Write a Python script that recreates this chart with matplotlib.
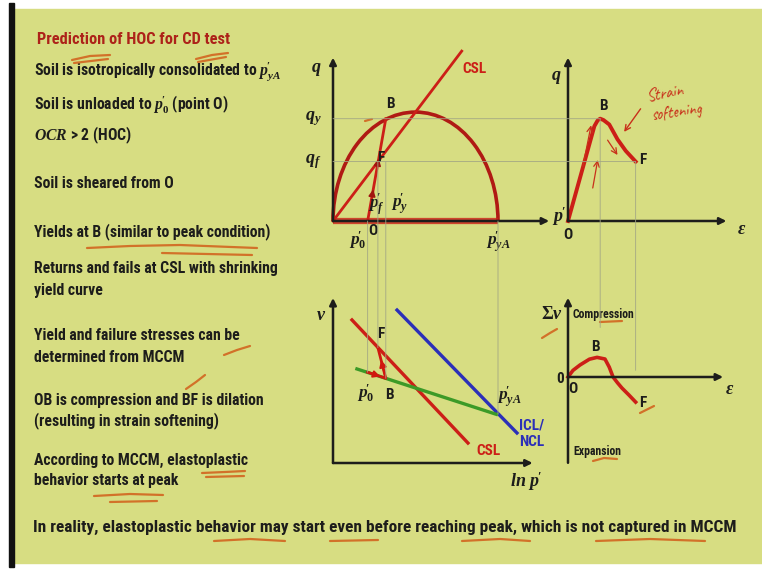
import matplotlib
matplotlib.use("Agg")
import matplotlib.pyplot as plt
from matplotlib.patches import Arc, ConnectionPatch, Rectangle

plt.rcParams['mathtext.fontset'] = 'custom'
plt.rcParams['mathtext.it'] = 'Liberation Serif:italic:bold'
plt.rcParams['mathtext.rm'] = 'Liberation Serif:bold'
plt.rcParams['mathtext.bf'] = 'Liberation Serif:bold'

# --- model values (MCCM, heavily overconsolidated, drained test) ---
p_yA = 1.0          # isotropic preconsolidation pressure
M = 1.32            # slope of CSL in q-p'
p_0 = 0.21          # start of shearing (point O)
p_B, q_B = 0.32, 0.62   # yield / peak
p_F, q_F = 0.272, 0.36  # failure on the CSL
p_csl_end = 0.78

# v - ln p' lines
csl_lnp = [0.115, 0.818]
csl_v = [0.867, 0.121]
ncl_lnp = [0.388, 1.115]
ncl_v = [0.927, 0.182]
url_lnp = [0.145, 0.99]
url_v = [0.570, 0.295]
path_lnp = [p_0, p_B, p_F]
path_v = [0.55, 0.513, 0.699]

# q - axial strain
eps_q = [0, 0.16, 0.18, 0.195, 0.215, 0.25, 0.30, 0.35, 0.41]
q_eps = [0, 0.575, 0.61, q_B, 0.612, 0.585, 0.495, 0.425, q_F]
eps_B, eps_F = 0.195, 0.41

# volumetric strain - axial strain
eps_v = [0, 0.03, 0.073, 0.13, 0.176, 0.224, 0.25, 0.273, 0.30, 0.327, 0.37, 0.41]
sum_v = [0, 0.04, 0.073, 0.108, 0.119, 0.109, 0.06, 0.0, -0.035, -0.067, -0.11, -0.152]

P = r"p^{\!\prime}"
bullets = [
    (72, "Soil is isotropically consolidated to $" + P + "_{yA}$"),
    (104, "Soil is unloaded to $" + P + "_0$ (point O)"),
    (135, "$OCR$ > 2 (HOC)"),
    (184, "Soil is sheared from O"),
    (232, "Yields at B (similar to peak condition)"),
    (269, "Returns and fails at CSL with shrinking"),
    (291, "yield curve"),
    (336, "Yield and failure stresses can be"),
    (357, "determined from MCCM"),
    (400, "OB is compression and BF is dilation"),
    (421, "(resulting in strain softening)"),
    (460, "According to MCCM, elastoplastic"),
    (481, "behavior starts at peak"),
]
title = "Prediction of HOC for CD test"
footer = ("In reality, elastoplastic behavior may start even before reaching peak, "
          "which is not captured in MCCM")

W, H = 762, 573
S = 165  # pixels per unit in every diagram
BG = '#d7dd82'
INK = '#1d1d1b'
RED = '#cc1f17'
GUIDE = '#a3a784'
PEN = '#d2651f'
SANS = ['Roboto Condensed', 'DejaVu Sans']
HAND = ['Caveat', 'DejaVu Sans']

fig = plt.figure(figsize=(W / 100, H / 100), dpi=100, facecolor='white')
bg = fig.add_axes([0, 0, 1, 1])
bg.set_xlim(0, W)
bg.set_ylim(H, 0)
bg.axis('off')
bg.add_patch(Rectangle((14, 9), W - 14, 554, color=BG, zorder=0))
bg.add_patch(Rectangle((9, 3), 5, 564, color='#111111', zorder=1))

body = dict(fontsize=11.3, fontweight='bold', color=INK, family=SANS, va='center', ha='left')
bg.text(37, 40, title, **{**body, 'color': '#ad2219', 'fontsize': 11.8})
for y, s in bullets:
    bg.text(34, y, s, **body)
bg.text(33, 527, footer, **{**body, 'fontsize': 12.4})

# pen marks of the lecturer
pen_marks = [
    [(72, 60), (90, 56), (110, 55)], [(74, 63), (108, 59)],
    [(196, 59), (212, 55), (228, 53)], [(198, 62), (226, 57)],
    [(87, 248), (130, 246), (180, 245), (257, 248)], [(162, 253), (252, 255)],
    [(224, 355), (237, 350), (250, 346)],
    [(186, 389), (196, 382), (205, 375)],
    [(202, 473), (225, 472), (245, 471)], [(206, 477), (244, 476)],
    [(94, 496), (130, 494), (163, 495)], [(110, 502), (157, 501)],
    [(214, 541), (250, 539), (285, 541)], [(330, 541), (378, 540)],
    [(462, 541), (500, 539), (530, 541)], [(596, 541), (650, 539), (705, 541)],
    [(542, 338), (550, 333), (557, 329)],
    [(593, 461), (604, 458), (617, 459)],
    [(640, 413), (648, 409), (654, 406)],
    [(600, 322), (622, 321)],
    [(365, 121), (372, 119)],
]
for pts in pen_marks:
    xs, ys = zip(*pts)
    bg.plot(xs, ys, color=PEN, lw=1.6, solid_capstyle='round', alpha=0.9, zorder=3)


def panel(ox, oy, x0, x1, y0, y1):
    # ox, oy: pixel position of the data origin, measured from top-left
    left, right = ox + x0 * S, ox + x1 * S
    top, bottom = oy - y1 * S, oy - y0 * S
    ax = fig.add_axes([left / W, 1 - bottom / H, (right - left) / W, (bottom - top) / H])
    ax.set_xlim(x0, x1)
    ax.set_ylim(y0, y1)
    ax.axis('off')
    ax.patch.set_alpha(0)
    return ax


def arrow(ax, start, end, color=INK, lw=1.8, head='-|>'):
    ax.annotate('', xy=end, xytext=start,
                arrowprops=dict(arrowstyle=head, color=color, lw=lw,
                                shrinkA=0, shrinkB=0, mutation_scale=10))


def guide(axA, xyA, axB, xyB):
    fig.add_artist(ConnectionPatch(xyA, xyB, 'data', 'data', axesA=axA, axesB=axB,
                                   color=GUIDE, lw=0.6, zorder=0.5))


mlab = dict(fontsize=13, color=INK, va='center', ha='center')
plab = {**mlab, 'fontsize': 12.5}
slab = dict(fontsize=11, color=INK, fontweight='bold', family=SANS, va='center', ha='center')

# q - p'
ax1 = panel(333, 221, -0.25, 1.45, -0.25, 1.12)
ax1.plot([0, p_yA], [0, 0], color=RED, lw=4.5, alpha=0.8, solid_capstyle='butt')
arrow(ax1, (0, 0), (1.31, 0))
arrow(ax1, (0, 0), (0, 0.99))
ax1.add_patch(Arc((p_yA / 2, 0), p_yA, M * p_yA, theta1=0, theta2=180, color='#b01a14', lw=2.6))
ax1.plot([0, p_csl_end], [0, M * p_csl_end], color=RED, lw=2.0)
ax1.plot([p_0, p_B], [0, q_B], color=RED, lw=2.0)
for f in (0.25, 0.55):
    a = (p_0 + f * (p_B - p_0), f * q_B)
    b = (p_0 + (f + 0.06) * (p_B - p_0), (f + 0.06) * q_B)
    arrow(ax1, a, b, color='#a01510', lw=1.2)
ax1.text(-0.1, 0.92, '$q$', **mlab)
ax1.text(-0.07, q_B, '$q_y$', **{**mlab, 'ha': 'right'})
ax1.text(-0.07, q_F, '$q_f$', **{**mlab, 'ha': 'right'})
ax1.text(1.33, 0.03, "$" + P + "$", **{**mlab, 'ha': 'left'})
ax1.text(p_B + 0.03, q_B + 0.09, 'B', **slab)
ax1.text(p_F + 0.02, q_F + 0.02, 'F', **slab)
ax1.text(0.265, 0.1, "$" + P + "_f$", **plab)
ax1.text(0.405, 0.1, "$" + P + "_y$", **plab)
ax1.text(0.24, -0.06, 'O', **slab)
ax1.text(0.15, -0.12, "$" + P + "_0$", **plab)
ax1.text(p_yA, -0.13, "$" + P + "_{yA}$", **plab)
ax1.text(0.86, 0.92, 'CSL', **{**slab, 'color': RED})

# q - eps
ax2 = panel(568, 221, -0.15, 1.15, -0.25, 1.12)
arrow(ax2, (0, 0), (0.96, 0))
arrow(ax2, (0, 0), (0, 0.99))
ax2.plot(eps_q, q_eps, color=RED, lw=2.8, solid_joinstyle='round')
ax2.text(-0.07, 0.87, '$q$', **mlab)
ax2.text(1.05, -0.05, r'$\varepsilon$', **mlab)
ax2.text(eps_B + 0.02, q_B + 0.08, 'B', **slab)
ax2.text(eps_F + 0.04, q_F + 0.01, 'F', **slab)
ax2.text(0.0, -0.085, 'O', **slab)
ax2.text(0.47, 0.77, 'Strain', family=HAND, fontsize=12,
         color='#c8301a', rotation=10, ha='left', va='center')
ax2.text(0.5, 0.66, 'softening', family=HAND, fontsize=12,
         color='#c8301a', rotation=8, ha='left', va='center')
arrow(ax2, (0.44, 0.68), (0.34, 0.54), color='#c8301a', lw=1.0, head='->')
arrow(ax2, (0.09, 0.33), (0.14, 0.58), color='#c8301a', lw=0.9, head='->')
arrow(ax2, (0.15, 0.20), (0.18, 0.37), color='#c8301a', lw=0.9, head='->')
arrow(ax2, (0.24, 0.49), (0.30, 0.40), color='#c8301a', lw=0.9, head='->')

# v - ln p'
ax3 = panel(333, 463, -0.25, 1.45, -0.15, 1.1)
arrow(ax3, (0, 0), (1.21, 0))
arrow(ax3, (0, 0), (0, 1.0))
ax3.plot(csl_lnp, csl_v, color=RED, lw=2.4)
ax3.plot(ncl_lnp, ncl_v, color='#2b2fb8', lw=2.4)
ax3.plot(url_lnp, url_v, color='#3c9a27', lw=2.4)
ax3.plot(path_lnp, path_v, color='#d0180f', lw=2.0)
arrow(ax3, (p_0, path_v[0]), (p_0 + 0.7 * (p_B - p_0), path_v[0] + 0.7 * (path_v[1] - path_v[0])),
      color='#d0180f', lw=1.4)
arrow(ax3, (p_B, path_v[1]), (p_B - 0.6 * (p_B - p_F), path_v[1] + 0.6 * (path_v[2] - path_v[1])),
      color='#d0180f', lw=1.4)
ax3.text(-0.07, 0.9, '$v$', **mlab)
ax3.text(1.17, -0.11, "$ln\\ " + P + "$", **mlab)
ax3.text(p_F + 0.02, path_v[2] + 0.08, 'F', **slab)
ax3.text(p_B + 0.02, path_v[1] - 0.1, 'B', **slab)
ax3.text(p_0 - 0.01, path_v[0] - 0.13, "$" + P + "_0$", **plab)
ax3.text(1.07, 0.4, "$" + P + "_{yA}$", **plab)
ax3.text(0.94, 0.07, 'CSL', **{**slab, 'color': RED})
ax3.text(1.13, 0.23, 'ICL/', **{**slab, 'color': '#2b2fb8', 'ha': 'left'})
ax3.text(1.13, 0.125, 'NCL', **{**slab, 'color': '#2b2fb8', 'ha': 'left'})

# volumetric strain - eps
ax4 = panel(568, 377, -0.15, 1.15, -0.6, 0.55)
arrow(ax4, (0, 0), (0.94, 0))
arrow(ax4, (0, -0.52), (0, 0.48))
ax4.plot(eps_v, sum_v, color=RED, lw=2.6, solid_joinstyle='round')
ax4.text(-0.1, 0.38, r'$\Sigma v$', **mlab)
ax4.text(0.03, 0.38, 'Compression', **{**slab, 'ha': 'left', 'fontsize': 8.5})
ax4.text(0.03, -0.45, 'Expansion', **{**slab, 'ha': 'left', 'fontsize': 8.5})
ax4.text(-0.05, -0.01, '0', **slab)
ax4.text(0.03, -0.07, 'O', **slab)
ax4.text(0.165, 0.18, 'B', **slab)
ax4.text(0.45, -0.16, 'F', **slab)
ax4.text(0.98, -0.07, r'$\varepsilon$', **mlab)

# projection lines between the diagrams
guide(ax1, (0, q_B), ax2, (eps_B, q_B))
guide(ax1, (0, q_F), ax2, (eps_F, q_F))
guide(ax1, (p_0, 0), ax3, (p_0, path_v[0]))
guide(ax1, (p_F, q_F), ax3, (p_F, path_v[2]))
guide(ax1, (p_B, q_F), ax3, (p_B, path_v[1]))
guide(ax1, (p_yA, 0), ax3, (p_yA, url_v[1]))
guide(ax2, (eps_B, q_B), ax4, (eps_B, 0.3))
guide(ax2, (eps_F, q_F), ax4, (eps_F, 0.04))

fig.savefig('out.png', dpi=100, facecolor='white')
